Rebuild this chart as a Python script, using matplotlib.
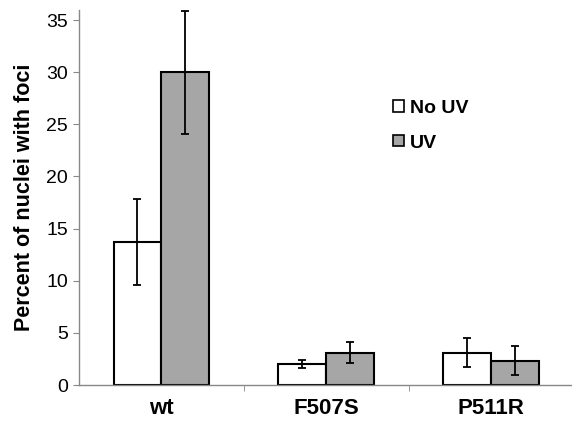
# Percent of nuclei with foci, wt vs mutants
import numpy as np
import matplotlib.pyplot as plt
from matplotlib.patches import Patch

plt.rcParams['font.family'] = ['Liberation Sans', 'DejaVu Sans']

# data
strains = ['wt', 'F507S', 'P511R']
no_uv = [13.7, 2.0, 3.1]
no_uv_err = [4.1, 0.4, 1.4]
uv = [30.0, 3.1, 2.35]
uv_err = [5.9, 1.0, 1.35]
yticks = [0, 5, 10, 15, 20, 25, 30, 35]

fig = plt.figure(figsize=(5.72, 4.21), dpi=100)
ax = fig.add_axes([0.138, 0.0855, 0.862, 0.8915])

x = np.arange(len(strains))
w = 0.29
ekw = dict(elinewidth=1.3, capthick=1.3, ecolor='black')
ax.bar(x - w / 2, no_uv, w, yerr=no_uv_err, color='white', edgecolor='black',
       linewidth=1.5, capsize=3, error_kw=ekw)
ax.bar(x + w / 2, uv, w, yerr=uv_err, color='#a6a6a6', edgecolor='black',
       linewidth=1.5, capsize=3, error_kw=ekw)

ax.set_xlim(-0.5, 2.49)
ax.set_ylim(0, 36)
ax.set_yticks(yticks)
ax.tick_params(axis='y', labelsize=14, length=4, color='#888888', pad=4)
ax.set_xticks(x)
ax.set_xticklabels(strains, fontsize=16, fontweight='bold')
ax.tick_params(axis='x', length=0, pad=9)
ax.set_xticks([0.5, 1.5], minor=True)
ax.tick_params(axis='x', which='minor', length=4, color='#888888')

for s in ['top', 'right']:
    ax.spines[s].set_visible(False)
for s in ['left', 'bottom']:
    ax.spines[s].set_color('#888888')
    ax.spines[s].set_linewidth(1.0)

ax.set_ylabel('Percent of nuclei with foci', fontsize=15.5, fontweight='bold', labelpad=8)

handles = [Patch(facecolor='white', edgecolor='black', linewidth=1.2),
           Patch(facecolor='#a6a6a6', edgecolor='black', linewidth=1.2)]
fig.legend(handles, ['No UV', 'UV'], loc='upper left',
           bbox_to_anchor=(393 / 572, 1 - 100 / 421), frameon=False,
           prop={'size': 14, 'weight': 'bold'}, handlelength=0.55, handleheight=0.55,
           handletextpad=0.3, labelspacing=0.9, borderpad=0, borderaxespad=0)

fig.savefig('out.png', dpi=100)
